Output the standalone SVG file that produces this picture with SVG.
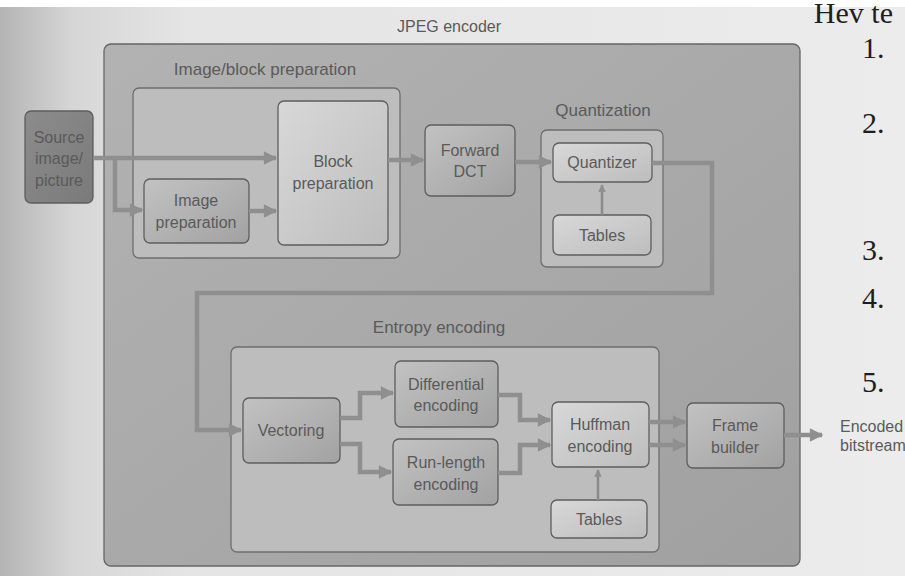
<svg xmlns="http://www.w3.org/2000/svg" width="905" height="576" viewBox="0 0 905 576">
<defs>
  <linearGradient id="page" x1="0" y1="0" x2="1" y2="0">
    <stop offset="0" stop-color="#b4b4b4"/>
    <stop offset="0.08" stop-color="#d6d6d6"/>
    <stop offset="0.2" stop-color="#e4e4e4"/>
    <stop offset="1" stop-color="#ececec"/>
  </linearGradient>
  <linearGradient id="outer" x1="0" y1="0" x2="1" y2="1">
    <stop offset="0" stop-color="#b2b2b2"/>
    <stop offset="1" stop-color="#a0a0a0"/>
  </linearGradient>
  <linearGradient id="dark" x1="0" y1="0" x2="1" y2="1">
    <stop offset="0" stop-color="#8c8c8c"/>
    <stop offset="1" stop-color="#7a7a7a"/>
  </linearGradient>
  <linearGradient id="mid" x1="0" y1="0" x2="1" y2="1">
    <stop offset="0" stop-color="#c2c2c2"/>
    <stop offset="1" stop-color="#a2a2a2"/>
  </linearGradient>
  <linearGradient id="light" x1="0" y1="0" x2="1" y2="1">
    <stop offset="0" stop-color="#d8d8d8"/>
    <stop offset="1" stop-color="#bdbdbd"/>
  </linearGradient>
  <marker id="ah" viewBox="0 0 10 10" refX="9" refY="5" markerWidth="3.2" markerHeight="3" orient="auto" markerUnits="strokeWidth">
    <path d="M0,0 L10,5 L0,10 z" fill="#8f8f8f"/>
  </marker>
  <style>
    .lbl{font-family:"Liberation Sans",Arial,sans-serif;font-size:16px;fill:#5a5a5a;text-anchor:middle}
    .glbl{font-size:17px}
    .grp{fill:#bdbdbd;stroke:#6e6e6e;stroke-width:1.3}
    .node{stroke:#5e5e5e;stroke-width:1.3}
    .ln{fill:none;stroke:#8f8f8f;stroke-width:4.5}
    .thin{fill:none;stroke:#8a8a8a;stroke-width:2.5}
    .num{font-family:"Liberation Serif","Times New Roman",serif;font-size:30px;fill:#1e1e1e}
  </style>
</defs>
<rect x="0" y="0" width="905" height="576" fill="url(#page)"/>
<rect x="0" y="0" width="905" height="7" fill="#ffffff"/>
<text class="num" x="893" y="23" font-size="17" text-anchor="end">Hev te</text>
<text class="num" x="862" y="58">1.</text>
<text class="num" x="862" y="133">2.</text>
<text class="num" x="862" y="260">3.</text>
<text class="num" x="862" y="308">4.</text>
<text class="num" x="862" y="392">5.</text>

<g id="jpeg-encoder">
  <rect x="104" y="44" width="696" height="522" rx="7" fill="url(#outer)" stroke="#666" stroke-width="1.3"/>
  <text class="lbl" x="449" y="32">JPEG encoder</text>
</g>

<g id="image-block-preparation">
  <text class="lbl glbl" x="265" y="75">Image/block preparation</text>
  <rect class="grp" x="133" y="88" width="267" height="170" rx="6"/>
</g>
<g id="quantization">
  <text class="lbl glbl" x="603" y="116">Quantization</text>
  <rect class="grp" x="541" y="130" width="122" height="137" rx="6"/>
</g>
<g id="entropy-encoding">
  <text class="lbl glbl" x="439" y="333">Entropy encoding</text>
  <rect class="grp" x="231" y="347" width="428" height="205" rx="6"/>
</g>

<g id="source">
  <rect class="node" x="25" y="111" width="68" height="92" rx="6" fill="url(#dark)"/>
  <text class="lbl" x="59" y="143" fill="#4e4e4e">Source</text>
  <text class="lbl" x="59" y="164" fill="#4e4e4e">image/</text>
  <text class="lbl" x="59" y="186" fill="#4e4e4e">picture</text>
</g>
<g id="image-preparation">
  <rect class="node" x="144" y="179" width="105" height="64" rx="6" fill="url(#mid)"/>
  <text class="lbl" x="196" y="206">Image</text>
  <text class="lbl" x="196" y="228">preparation</text>
</g>
<g id="block-preparation">
  <rect class="node" x="278" y="101" width="110" height="144" rx="6" fill="url(#light)"/>
  <text class="lbl" x="333" y="167" font-size="17">Block</text>
  <text class="lbl" x="333" y="189" font-size="17">preparation</text>
</g>
<g id="forward-dct">
  <rect class="node" x="425" y="125" width="90" height="71" rx="6" fill="url(#mid)"/>
  <text class="lbl" x="470" y="156">Forward</text>
  <text class="lbl" x="470" y="177">DCT</text>
</g>
<g id="quantizer">
  <rect class="node" x="553" y="143" width="99" height="39" rx="6" fill="url(#light)"/>
  <text class="lbl" x="602" y="168">Quantizer</text>
</g>
<g id="tables-q">
  <rect class="node" x="553" y="215" width="98" height="40" rx="6" fill="url(#light)"/>
  <text class="lbl" x="602" y="241">Tables</text>
</g>
<g id="vectoring">
  <rect class="node" x="243" y="398" width="97" height="65" rx="6" fill="url(#mid)"/>
  <text class="lbl" x="291" y="436" font-size="17">Vectoring</text>
</g>
<g id="differential-encoding">
  <rect class="node" x="395" y="361" width="103" height="66" rx="6" fill="url(#mid)"/>
  <text class="lbl" x="446" y="390">Differential</text>
  <text class="lbl" x="446" y="411">encoding</text>
</g>
<g id="run-length-encoding">
  <rect class="node" x="393" y="439" width="105" height="66" rx="6" fill="url(#mid)"/>
  <text class="lbl" x="446" y="468">Run-length</text>
  <text class="lbl" x="446" y="490">encoding</text>
</g>
<g id="huffman-encoding">
  <rect class="node" x="552" y="402" width="97" height="65" rx="6" fill="url(#light)"/>
  <text class="lbl" x="600" y="430">Huffman</text>
  <text class="lbl" x="600" y="452">encoding</text>
</g>
<g id="tables-e">
  <rect class="node" x="551" y="500" width="96" height="38" rx="6" fill="url(#light)"/>
  <text class="lbl" x="599" y="525">Tables</text>
</g>
<g id="frame-builder">
  <rect class="node" x="687" y="403" width="97" height="65" rx="6" fill="url(#mid)"/>
  <text class="lbl" x="735" y="431">Frame</text>
  <text class="lbl" x="735" y="453">builder</text>
</g>
<g id="encoded-bitstream">
  <text class="lbl" x="840" y="432" style="text-anchor:start" font-size="13.5">Encoded</text>
  <text class="lbl" x="840" y="451" style="text-anchor:start" font-size="13.5">bitstream</text>
</g>

<g id="connectors">
  <path class="ln" d="M93,158 H276" marker-end="url(#ah)"/>
  <path class="ln" d="M115,158 V210 H142" marker-end="url(#ah)"/>
  <path class="ln" d="M249,211 H276" marker-end="url(#ah)"/>
  <path class="ln" d="M388,160 H423" marker-end="url(#ah)"/>
  <path class="ln" d="M515,162 H551" marker-end="url(#ah)"/>
  <path class="thin" d="M602,215 V185" marker-end="url(#ah)"/>
  <path class="ln" d="M652,163 H712 V293 H197 V430 H241" marker-end="url(#ah)"/>
  <path class="ln" d="M340,418 H360 V393 H393" marker-end="url(#ah)"/>
  <path class="ln" d="M340,444 H360 V472 H391" marker-end="url(#ah)"/>
  <path class="ln" d="M498,395 H520 V420 H550" marker-end="url(#ah)"/>
  <path class="ln" d="M498,473 H520 V445 H550" marker-end="url(#ah)"/>
  <path class="ln" d="M649,422 H685" marker-end="url(#ah)"/>
  <path class="ln" d="M649,445 H685" marker-end="url(#ah)"/>
  <path class="thin" d="M598,500 V470" marker-end="url(#ah)"/>
  <path class="ln" d="M784,435 H822" marker-end="url(#ah)"/>
</g>
</svg>
